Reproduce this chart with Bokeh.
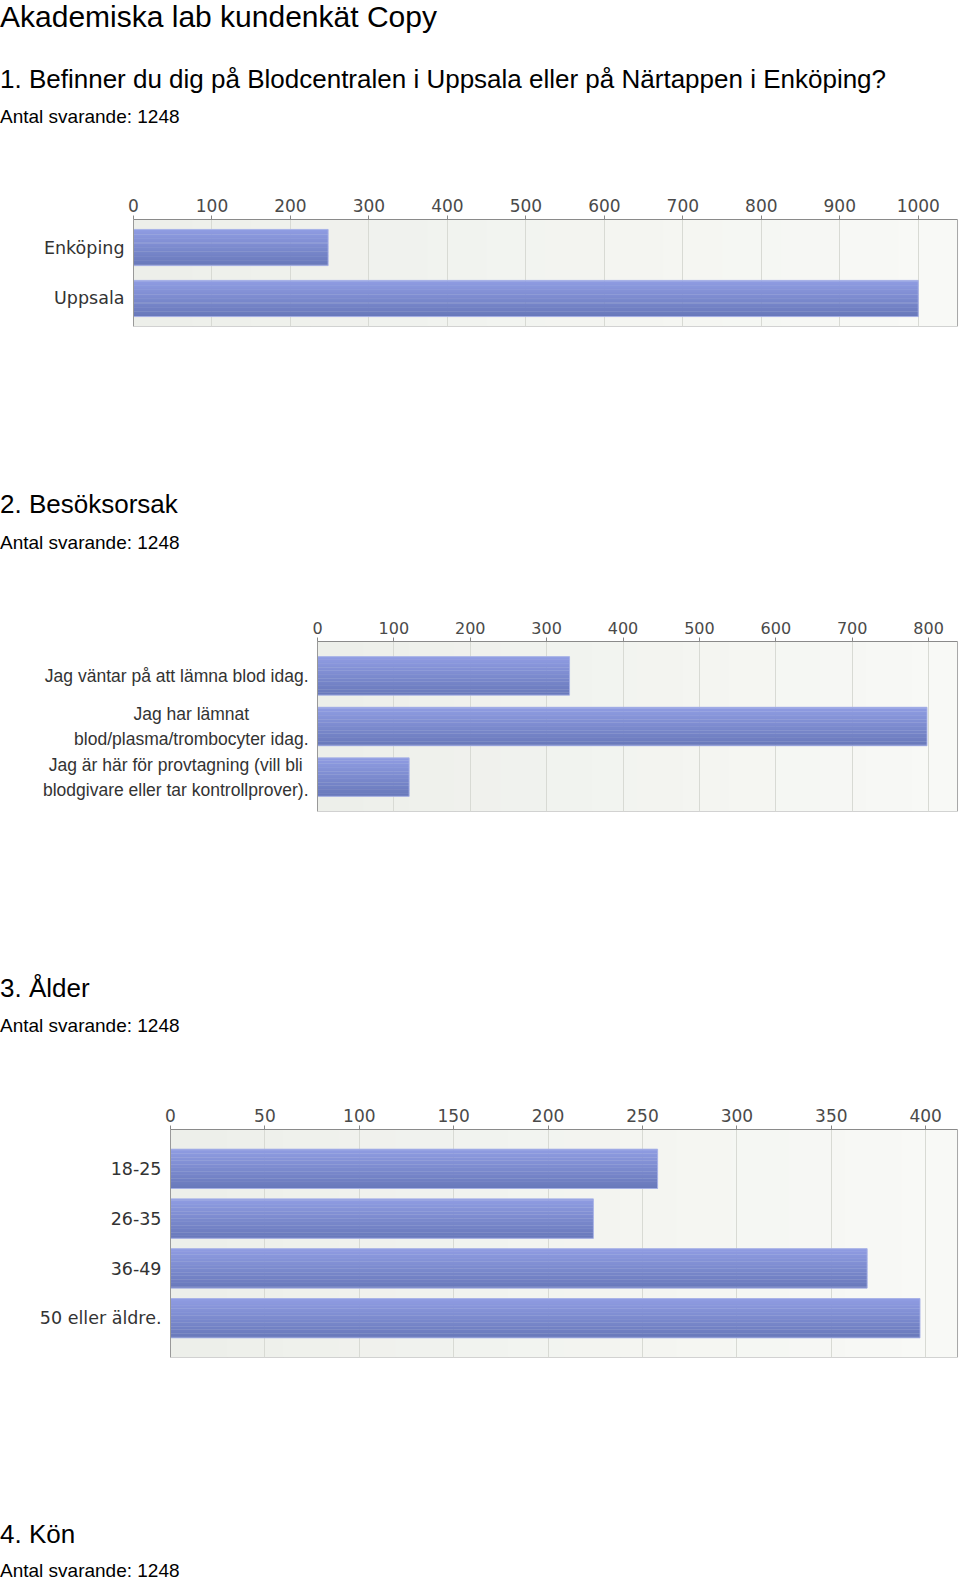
from bokeh.plotting import figure
from bokeh.models import (FactorRange, Range1d, FixedTicker, Div, ColumnDataSource,
                          BoxAnnotation, Span)
from bokeh.layouts import column
from bokeh.transform import dodge
from bokeh.core.properties import value
from bokeh.embed import file_html
from bokeh.resources import INLINE

# ---------------- data ----------------
page_title = "Akademiska lab kundenkät Copy"
answered = "Antal svarande: 1248"

q1_title = "1. Befinner du dig på Blodcentralen i Uppsala eller på Närtappen i Enköping?"
q1_categories = ["Enköping", "Uppsala"]
q1_values = [248, 1000]
q1_ticks = [0, 100, 200, 300, 400, 500, 600, 700, 800, 900, 1000]

q2_title = "2. Besöksorsak"
q2_categories = [
    "Jag väntar på att lämna blod idag.",
    "Jag har lämnat\nblod/plasma/trombocyter idag.",
    "Jag är här för provtagning (vill bli\nblodgivare eller tar kontrollprover).",
]
q2_values = [330, 798, 120]
q2_ticks = [0, 100, 200, 300, 400, 500, 600, 700, 800]

q3_title = "3. Ålder"
q3_categories = ["18-25", "26-35", "36-49", "50 eller äldre."]
q3_values = [258, 224, 369, 397]
q3_ticks = [0, 50, 100, 150, 200, 250, 300, 350, 400]

q4_title = "4. Kön"

# ---------------- style ----------------
PAGE_W = 960
FRAME_W = 958
TEXT_FONT = "'Liberation Sans', Arial, Helvetica, sans-serif"
BAR_TOP = (0x8f, 0x9c, 0xe2)
BAR_BOTTOM = (0x69, 0x79, 0xbb)
BG_LEFT = (0xed, 0xef, 0xea)
BG_RIGHT = (0xf8, 0xf9, 0xf6)


def lerp_color(a, b, t):
    return "#%02x%02x%02x" % tuple(int(round(a[k] + (b[k] - a[k]) * t)) for k in range(3))


def text_block(height, items):
    parts = []
    for top, size, txt in items:
        parts.append(
            f'<div style="position:absolute;left:0px;top:{top}px;font-family:{TEXT_FONT};'
            f'font-size:{size}px;line-height:{size}px;white-space:nowrap;color:#000;">{txt}</div>'
        )
    html = f'<div style="position:relative;width:{PAGE_W}px;height:{height}px;">' + "".join(parts) + "</div>"
    return Div(text=html, width=PAGE_W, height=height, margin=0)


def bar_chart(cats, vals, ticks, area_left, area_right, frame_h, pad, bar_h,
              label_font, label_size, tick_size, centered_lines=False):
    end_val = max(vals) * 1.05
    k = (area_right - area_left) / end_val          # px per unit
    x_start = -area_left / k
    x_end = end_val + (FRAME_W - area_right) / k

    factors = list(reversed(cats))
    p = figure(
        y_range=FactorRange(factors=factors, range_padding=pad, range_padding_units="absolute"),
        x_range=Range1d(x_start, x_end),
        x_axis_location="above", y_axis_location=None,
        width=PAGE_W, height=40 + frame_h + 2,
        frame_width=FRAME_W, frame_height=frame_h,
        min_border_left=0, min_border_right=PAGE_W - FRAME_W,
        min_border_top=40, min_border_bottom=2,
        toolbar_location=None, tools="", output_backend="svg", margin=0,
    )
    p.background_fill_color = "white"
    p.border_fill_color = "white"
    p.outline_line_color = None

    # plot area background: soft left-to-right gradient, then border
    bands = 14
    bg = []
    for i in range(bands):
        bg.append(BoxAnnotation(left=end_val * i / bands, right=end_val * (i + 1.02) / bands,
                                fill_color=lerp_color(BG_LEFT, BG_RIGHT, i / (bands - 1)),
                                fill_alpha=1.0, line_color=None, level="underlay"))
    frame_box = BoxAnnotation(left=0, right=end_val, fill_color=None, fill_alpha=0,
                              line_color="#a8a8a8", line_alpha=1.0, line_width=1, level="underlay")
    p.center = bg + [frame_box] + list(p.center)

    src = ColumnDataSource(dict(cat=cats, val=vals))
    n = 28
    step = bar_h / n
    for i in range(n):
        col = lerp_color(BAR_TOP, BAR_BOTTOM, i / (n - 1))
        off = bar_h / 2 - (i + 0.5) * step
        p.hbar(y=dodge("cat", off, range=p.y_range), left=0, right="val",
               height=step * 1.3, source=src, fill_color=col, line_color=None)
    p.hbar(y="cat", left=0, right="val", height=bar_h, source=src,
           fill_color=None, line_color="#a9b3e7", line_width=1, line_alpha=0.9)

    p.add_layout(Span(location=0, dimension="height", line_color="#999999", line_width=1))

    # category labels, right-aligned to the plot area
    if centered_lines:
        p.text(x=0, y="cat", text="cat", source=src, x_offset=-9,
               anchor=value("center_right"), text_align="center", text_baseline="middle",
               text_font=value(label_font), text_font_size=f"{label_size}px",
               text_color="#333333", text_line_height=1.25)
    else:
        p.text(x=0, y="cat", text="cat", source=src, x_offset=-9,
               text_align="right", text_baseline="middle",
               text_font=value(label_font), text_font_size=f"{label_size}px",
               text_color="#333333", text_line_height=1.25)

    xa = p.xaxis[0]
    xa.ticker = FixedTicker(ticks=ticks)
    xa.bounds = (0, end_val)
    xa.major_label_text_font = "DejaVu Sans"
    xa.major_label_text_font_size = f"{tick_size}px"
    xa.major_label_text_color = "#4a4a4a"
    xa.major_label_standoff = 4
    xa.major_tick_out = 4
    xa.major_tick_in = 0
    xa.major_tick_line_color = "#8a8a8a"
    xa.minor_tick_line_color = None
    xa.axis_line_color = "#8a8a8a"

    p.xgrid.ticker = FixedTicker(ticks=ticks)
    p.xgrid.grid_line_color = "#d8dad4"
    p.ygrid.grid_line_color = None
    return p


block1 = text_block(179, [(2, 30, page_title), (66, 26, q1_title), (107, 19, answered)])
fig1 = bar_chart(q1_categories, q1_values, q1_ticks, 133, 957, 107, 0.05, 0.71,
                 "DejaVu Sans", 17.5, 17)
block2 = text_block(273, [(163, 26, q2_title), (205, 19, answered)])
fig2 = bar_chart(q2_categories, q2_values, q2_ticks, 317, 957, 170, 0.18, 0.76,
                 "Liberation Sans", 17.5, 16, centered_lines=True)
block3 = text_block(276, [(162, 26, q3_title), (203, 19, answered)])
fig3 = bar_chart(q3_categories, q3_values, q3_ticks, 170, 957, 228, 0.29, 0.79,
                 "DejaVu Sans", 17.5, 17)
block4 = text_block(223, [(162, 26, q4_title), (202, 19, answered)])

page = column(block1, fig1, block2, fig2, block3, fig3, block4, spacing=0, margin=0)

with open("out.html", "w", encoding="utf-8") as f:
    f.write(file_html(page, INLINE, title="Akademiska lab kundenkät Copy"))
